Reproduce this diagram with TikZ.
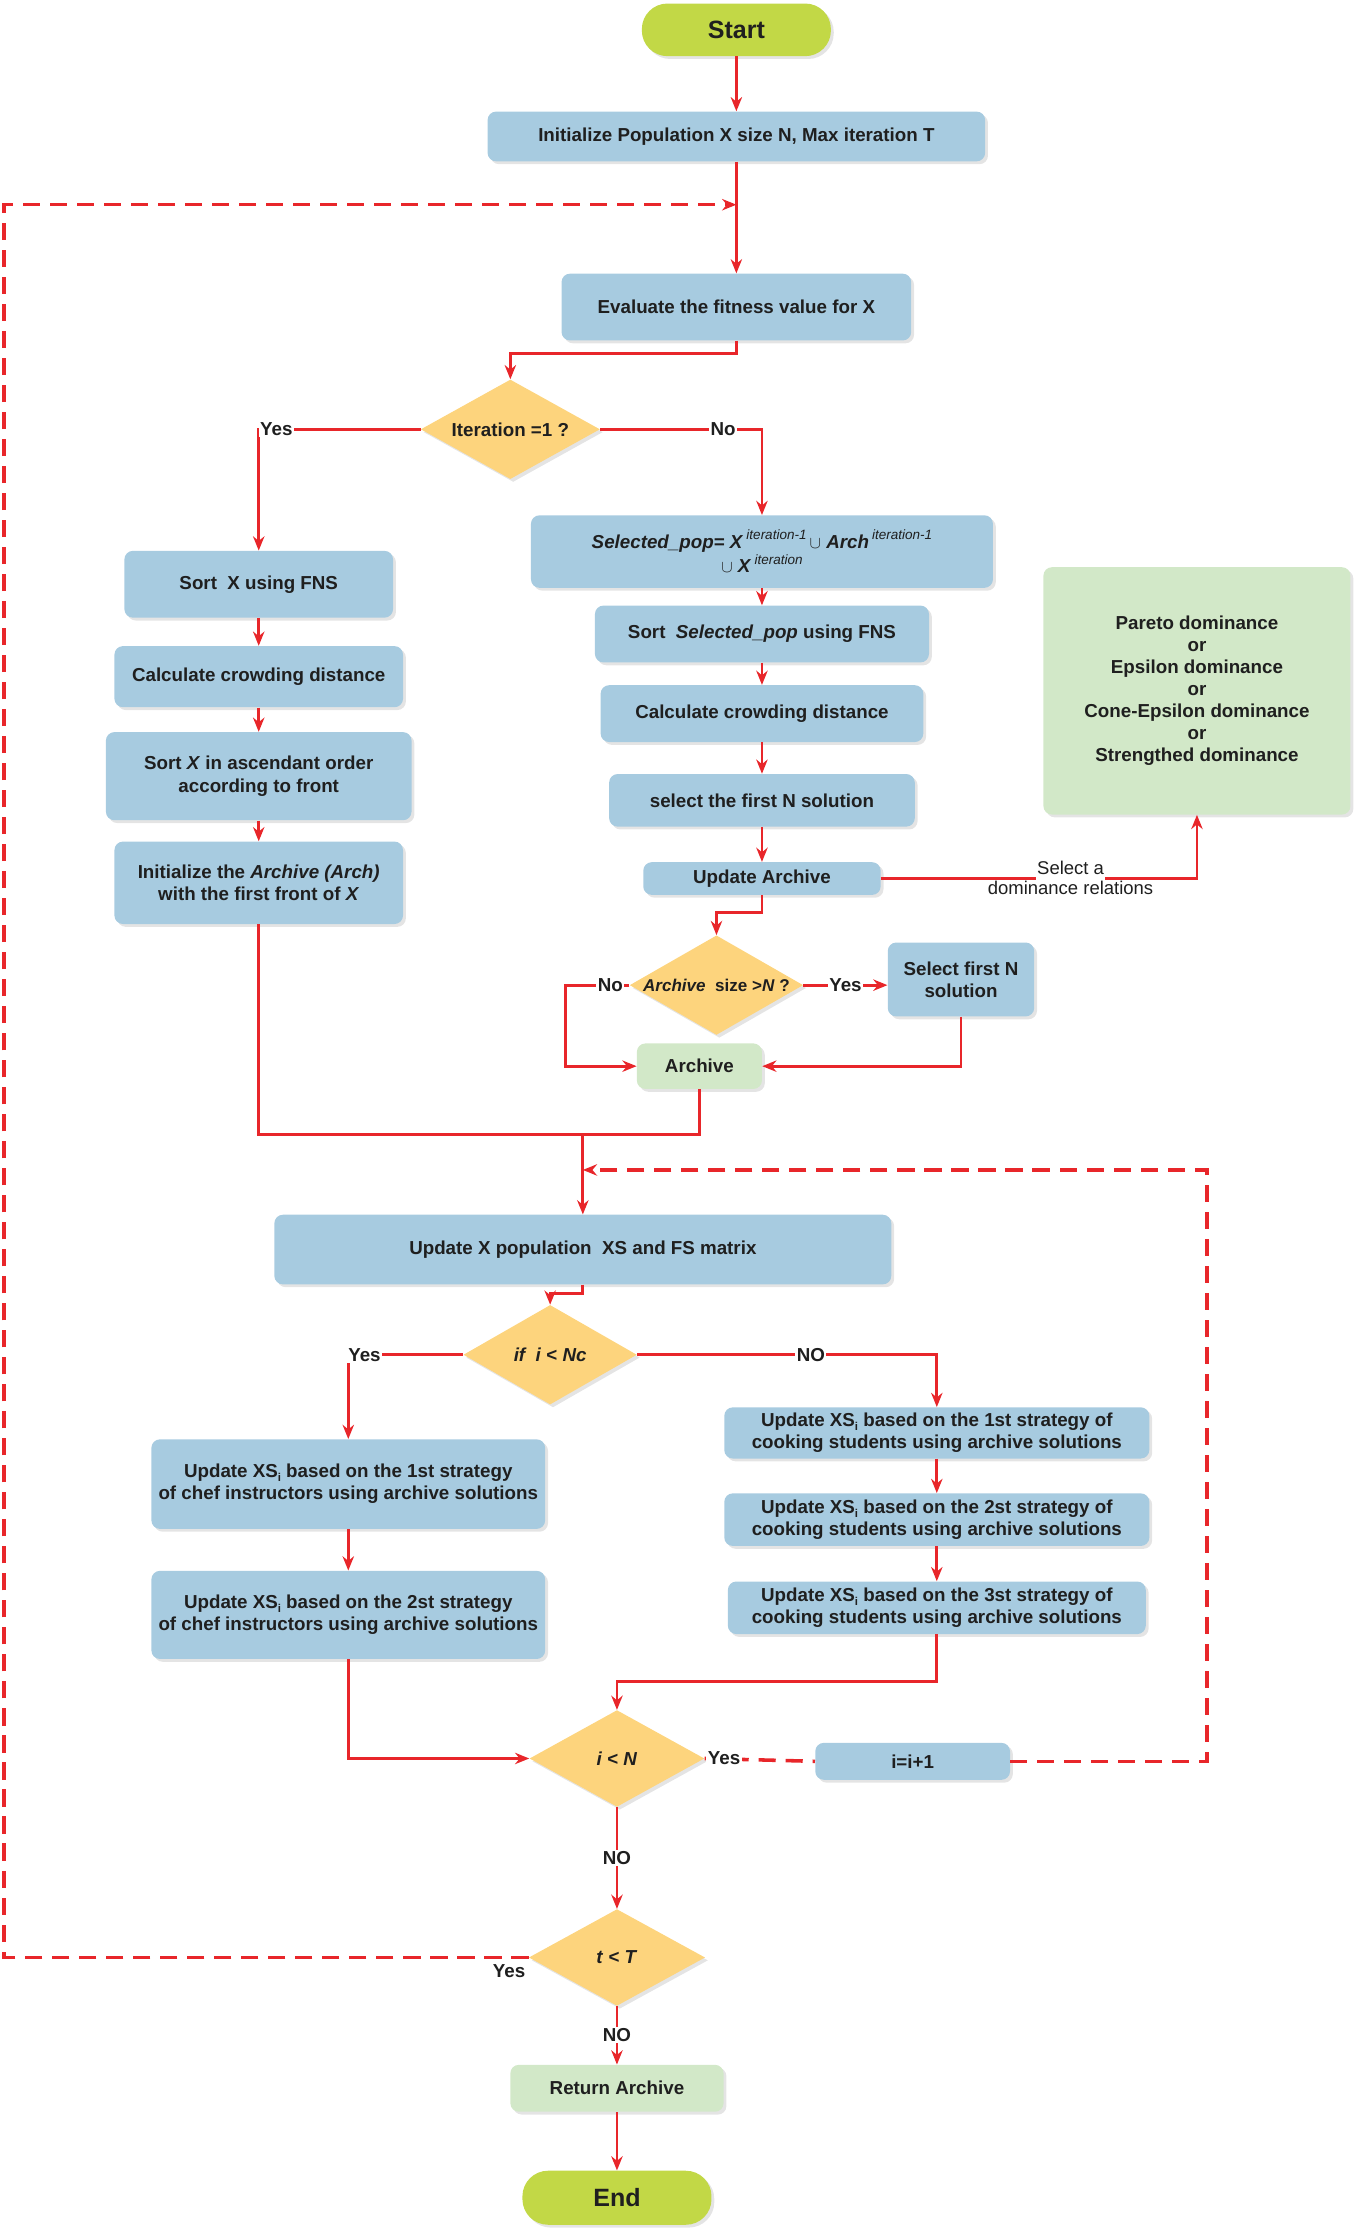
\documentclass[tikz,border=0pt]{standalone}
\usepackage{fontspec}
\setmainfont{Liberation Sans}
\usetikzlibrary{arrows.meta,shapes.geometric,shadows}

\definecolor{boxblue}{RGB}{167,203,224}
\definecolor{askyellow}{RGB}{253,212,125}
\definecolor{termgreen}{RGB}{194,216,70}
\definecolor{softgreen}{RGB}{210,232,200}
\definecolor{flowred}{RGB}{232,38,42}

\newcommand{\supx}[1]{\raisebox{0.9ex}{\fontsize{9.5}{10}\selectfont\mdseries\itshape #1}}
\newcommand{\subx}[1]{\raisebox{-0.4ex}{\fontsize{8}{9}\selectfont #1}}
\newcommand{\dtext}[1]{\makebox[0pt]{#1}}

\begin{document}
\begin{tikzpicture}[
                        ->,
                        >={Stealth[length=10pt,width=8pt]},
                        x=1pt, y=-1pt
                    ]
                    \tikzstyle{every node}=[font=\fontsize{13.2}{15.5}\selectfont\bfseries, text=black!88]
                    \tikzstyle{soft}=[drop shadow={shadow xshift=2pt,shadow yshift=-2pt,opacity=0.3,fill=black!35}]
                    \tikzstyle{process}=[rectangle, rounded corners=6pt, fill=boxblue, align=center, inner sep=2pt, soft]
                    \tikzstyle{decision}=[diamond, fill=askyellow, inner sep=0pt, soft]
                    \tikzstyle{terminal}=[rectangle, rounded corners=18pt, fill=termgreen, soft, font=\fontsize{17.6}{20}\selectfont\bfseries]
                    \tikzstyle{store}=[rectangle, rounded corners=6pt, fill=softgreen, align=center, soft]
                    \tikzstyle{flow}=[draw=flowred, line width=2pt]
                    \tikzstyle{loop}=[draw=flowred, line width=2.5pt, dash pattern=on 12pt off 7pt]
                    \tikzstyle{lbl}=[fill=white, inner sep=1pt]
                    \tikzstyle{thin}=[font=\fontsize{13}{14}\selectfont\mdseries, anchor=base, inner sep=1pt]
                    \tikzstyle{every edge}=[flow]

                    \useasboundingbox (0,0) rectangle (953,1568);

                    % main line
                    \node[terminal, minimum width=133pt, minimum height=37pt] (start)    at (518,21)   {Start};
                    \node[process, minimum width=350pt, minimum height=35pt]  (init)     at (518,96)   {Initialize Population X size N, Max iteration T};
                    \node[process, minimum width=246pt, minimum height=47pt]  (eval)     at (518,216)  {Evaluate the fitness value for X};
                    \node[decision, minimum width=126pt, minimum height=70pt] (iter)     at (359,302)  {\dtext{Iteration =1 ?}};

                    % first iteration
                    \node[process, minimum width=189pt, minimum height=47pt]  (sortx)    at (182,411)  {Sort~~X using FNS};
                    \node[process, minimum width=203pt, minimum height=43pt]  (crowdl)   at (182,476)  {Calculate crowding distance};
                    \node[process, minimum width=215pt, minimum height=62pt]  (ascend)   at (182,546)  {Sort \textit{X} in ascendant order\\according to front};
                    \node[process, minimum width=203pt, minimum height=58pt]  (initarch) at (182,621)  {Initialize the \textit{Archive (Arch)}\\with the first front of \textit{X}};

                    % later iterations
                    \node[process, minimum width=325pt, minimum height=51pt]  (selpop)   at (536,388)  {\textit{Selected\_pop= X}\,\supx{iteration-1}\,$\cup$ \textit{Arch}\,\supx{iteration-1}\\$\cup$ \textit{X}\,\supx{iteration}};
                    \node[process, minimum width=235pt, minimum height=40pt]  (sortsel)  at (536,446)  {Sort~~\textit{Selected\_pop} using FNS};
                    \node[process, minimum width=227pt, minimum height=40pt]  (crowdr)   at (536,502)  {Calculate crowding distance};
                    \node[process, minimum width=215pt, minimum height=37pt]  (firstn)   at (536,563)  {select the first N solution};
                    \node[process, minimum width=167pt, minimum height=23pt]  (updarch)  at (536,618)  {Update Archive};
                    \node[store, minimum width=216pt, minimum height=174pt]   (dom)      at (842,486)  {Pareto dominance\\or\\Epsilon dominance\\or\\Cone-Epsilon dominance\\or\\Strengthed dominance};
                    \node[decision, minimum width=122pt, minimum height=70pt] (archq)    at (504,693)  {\dtext{\fontsize{12}{14}\selectfont\textit{Archive}~~size >\textit{N} ?}};
                    \node[process, minimum width=103pt, minimum height=52pt]  (selfirst) at (676,689)  {Select first N\\solution};
                    \node[store, minimum width=88pt, minimum height=32pt]     (archive)  at (492,750)  {Archive};

                    % population update
                    \node[process, minimum width=434pt, minimum height=49pt]  (updx)     at (410,879)  {Update X population~~XS and FS matrix};
                    \node[decision, minimum width=122pt, minimum height=70pt] (ncq)      at (387,953)  {\dtext{\textit{if~~i} < \textit{Nc}}};
                    \node[process, minimum width=277pt, minimum height=63pt]  (chefa)    at (245,1044) {Update XS\subx{i} based on the 1st strategy\\of chef instructors using archive solutions};
                    \node[process, minimum width=277pt, minimum height=62pt]  (chefb)    at (245,1136) {Update XS\subx{i} based on the 2st strategy\\of chef instructors using archive solutions};
                    \node[process, minimum width=299pt, minimum height=36pt]  (cooka)    at (659,1008) {Update XS\subx{i} based on the 1st strategy of\\cooking students using archive solutions};
                    \node[process, minimum width=299pt, minimum height=37pt]  (cookb)    at (659,1069) {Update XS\subx{i} based on the 2st strategy of\\cooking students using archive solutions};
                    \node[process, minimum width=294pt, minimum height=37pt]  (cookc)    at (659,1131) {Update XS\subx{i} based on the 3st strategy of\\cooking students using archive solutions};
                    \node[decision, minimum width=123pt, minimum height=68pt] (nq)       at (434,1237) {\dtext{\textit{i} < \textit{N}}};
                    \node[process, minimum width=137pt, minimum height=26pt]  (inc)      at (642,1239) {i=i+1};
                    \node[decision, minimum width=124pt, minimum height=68pt] (tq)       at (434,1377) {\dtext{\textit{t} < \textit{T}}};
                    \node[store, minimum width=150pt, minimum height=33pt]    (ret)      at (434,1469) {Return Archive};
                    \node[terminal, minimum width=133pt, minimum height=38pt] (end)      at (434,1546) {End};

                    \coordinate (back)  at (518,144);
                    \coordinate (lloop) at (3,144);
                    \coordinate (merge) at (410,798);
                    \coordinate (inner) at (410,823);
                    \coordinate (rloop) at (849,823);

                    \path
                    (start)   edge                 (init)
                    (init)    edge                 (eval)
                    (sortx)   edge                 (crowdl)
                    (crowdl)  edge                 (ascend)
                    (ascend)  edge                 (initarch)
                    (selpop)  edge                 (sortsel)
                    (sortsel) edge                 (crowdr)
                    (crowdr)  edge                 (firstn)
                    (firstn)  edge                 (updarch)
                    (merge)   edge                 (updx)
                    (chefa)   edge                 (chefb)
                    (cooka)   edge                 (cookb)
                    (cookb)   edge                 (cookc)
                    (nq)      edge node[lbl] {NO}  (tq)
                    (tq)      edge node[lbl] {NO}  (ret)
                    (ret)     edge                 (end) ;

                    \draw[flow] (eval.south) -- ++(0,9) -| (iter.north);
                    \draw[flow] (iter.west) -| node[lbl, pos=0.5, anchor=west, xshift=-1pt] {Yes} (sortx.north);
                    \draw[flow] (iter.east) -| node[lbl, pos=0.38] {No} (selpop.north);
                    \draw[flow] (updarch.east) -| node[thin, pos=0.3, fill=white, text depth=5pt, yshift=3pt] {Select a}
                                                  node[thin, pos=0.3, yshift=-11pt] {dominance relations} (dom.south);
                    \draw[flow] (updarch.south) -- ++(0,12) -| (archq.north);
                    \draw[flow] (archq.west) -- node[lbl, pos=0.3] {No} ++(-45,0) |- (archive.west);
                    \draw[flow] (archq.east) -- node[lbl, pos=0.5] {Yes} (selfirst.west |- archq.east);
                    \draw[flow] (selfirst.south) |- (archive.east);
                    \draw[flow,-] (initarch.south) |- (merge) -| (archive.south);
                    \draw[flow] (updx.south) -- ++(0,6) -| (ncq.north);
                    \draw[flow] (ncq.west) -| node[lbl, pos=0.5, anchor=west, xshift=-2pt] {Yes} (chefa.north);
                    \draw[flow] (ncq.east) -| node[lbl, pos=0.29] {NO} (cooka.north);
                    \draw[flow] (cookc.south) -- ++(0,33) -| (nq.north);
                    \draw[flow] (chefb.south) |- (nq.west);

                    % dashed loops
                    \draw[loop,-] (nq.east) -- node[lbl, pos=0, anchor=west] {Yes} (inc.west);
                    \draw[loop] (inc.east) -| (rloop) -- (inner);
                    \draw[loop] (tq.west) -| node[pos=0, anchor=north east, inner sep=1pt, yshift=-3pt] {Yes} (lloop) -- (back);

                \end{tikzpicture}
\end{document}
